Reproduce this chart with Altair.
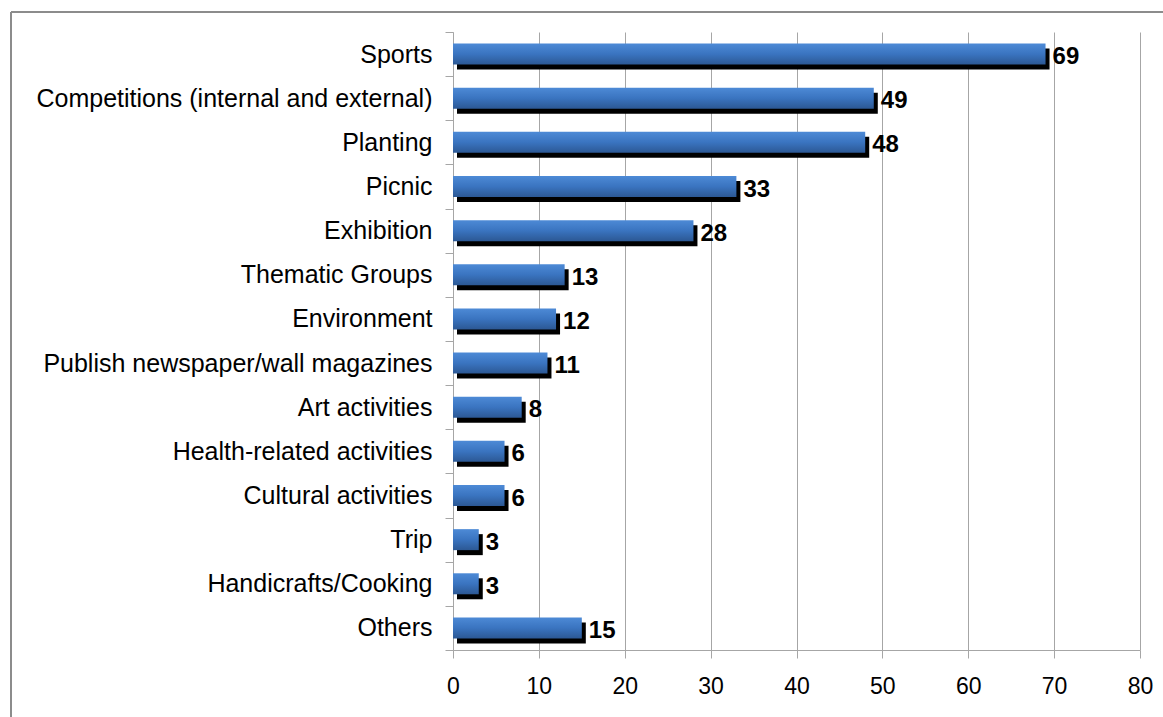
import altair as alt
import pandas as pd

categories = [
    "Sports",
    "Competitions (internal and external)",
    "Planting",
    "Picnic",
    "Exhibition",
    "Thematic Groups",
    "Environment",
    "Publish newspaper/wall magazines",
    "Art activities",
    "Health-related activities",
    "Cultural activities",
    "Trip",
    "Handicrafts/Cooking",
    "Others",
]
values = [69, 49, 48, 33, 28, 13, 12, 11, 8, 6, 6, 3, 3, 15]
x_ticks = [0, 10, 20, 30, 40, 50, 60, 70, 80]

df = pd.DataFrame({"activity": categories, "count": values})

FONT = "Liberation Sans"
GRID = "#a6a6a6"

y_enc = alt.Y(
    "activity:N",
    sort=categories,
    title=None,
    scale=alt.Scale(paddingInner=0, paddingOuter=0),
    axis=alt.Axis(
        tickBand="extent",
        tickSize=8,
        tickColor=GRID,
        domainColor=GRID,
        labelFontSize=25,
        labelFont=FONT,
        labelColor="black",
        labelPadding=13,
        labelLimit=500,
        grid=False,
    ),
)
x_enc = alt.X(
    "count:Q",
    title=None,
    scale=alt.Scale(domain=[0, 80], nice=False),
    axis=alt.Axis(
        values=x_ticks,
        tickSize=8,
        tickColor=GRID,
        domainColor=GRID,
        gridColor=GRID,
        grid=True,
        labelFontSize=23,
        labelFont=FONT,
        labelColor="black",
        labelPadding=17,
        labelFlush=False,
    ),
)

base = alt.Chart(df).encode(y=y_enc, x=x_enc)

shadow = base.mark_bar(color="black", size=21, xOffset=4, yOffset=5)

gradient = alt.Gradient(
    gradient="linear",
    stops=[
        alt.GradientStop(color="#4d8ad6", offset=0),
        alt.GradientStop(color="#3a74c0", offset=0.5),
        alt.GradientStop(color="#2c5894", offset=1),
    ],
    x1=0, x2=0, y1=0, y2=1,
)
bars = base.mark_bar(color=gradient, size=21)

labels = base.mark_text(
    align="left", baseline="middle", dx=7, dy=3,
    fontSize=24, fontWeight="bold", font=FONT, color="black",
).encode(text="count:Q")

frame_df = pd.DataFrame({"k": [0]})
frame_top = alt.Chart(frame_df).mark_rule(color="#8c8c8c", strokeWidth=2, clip=False).encode(
    x=alt.value(-442), x2=alt.value(760), y=alt.value(-20)
)
frame_left = alt.Chart(frame_df).mark_rule(color="#8c8c8c", strokeWidth=2, clip=False).encode(
    x=alt.value(-442), y=alt.value(-20), y2=alt.value(720)
)

chart = (
    alt.layer(frame_top, frame_left, shadow, bars, labels)
    .properties(
        width=687,
        height=618,
        autosize=alt.AutoSizeParams(type="none"),
        padding={"left": 453, "top": 32, "right": 23, "bottom": 67},
        background="white",
    )
    .configure_view(stroke=None)
)

chart.save("out.html", embed_options={"renderer": "svg", "actions": False})
